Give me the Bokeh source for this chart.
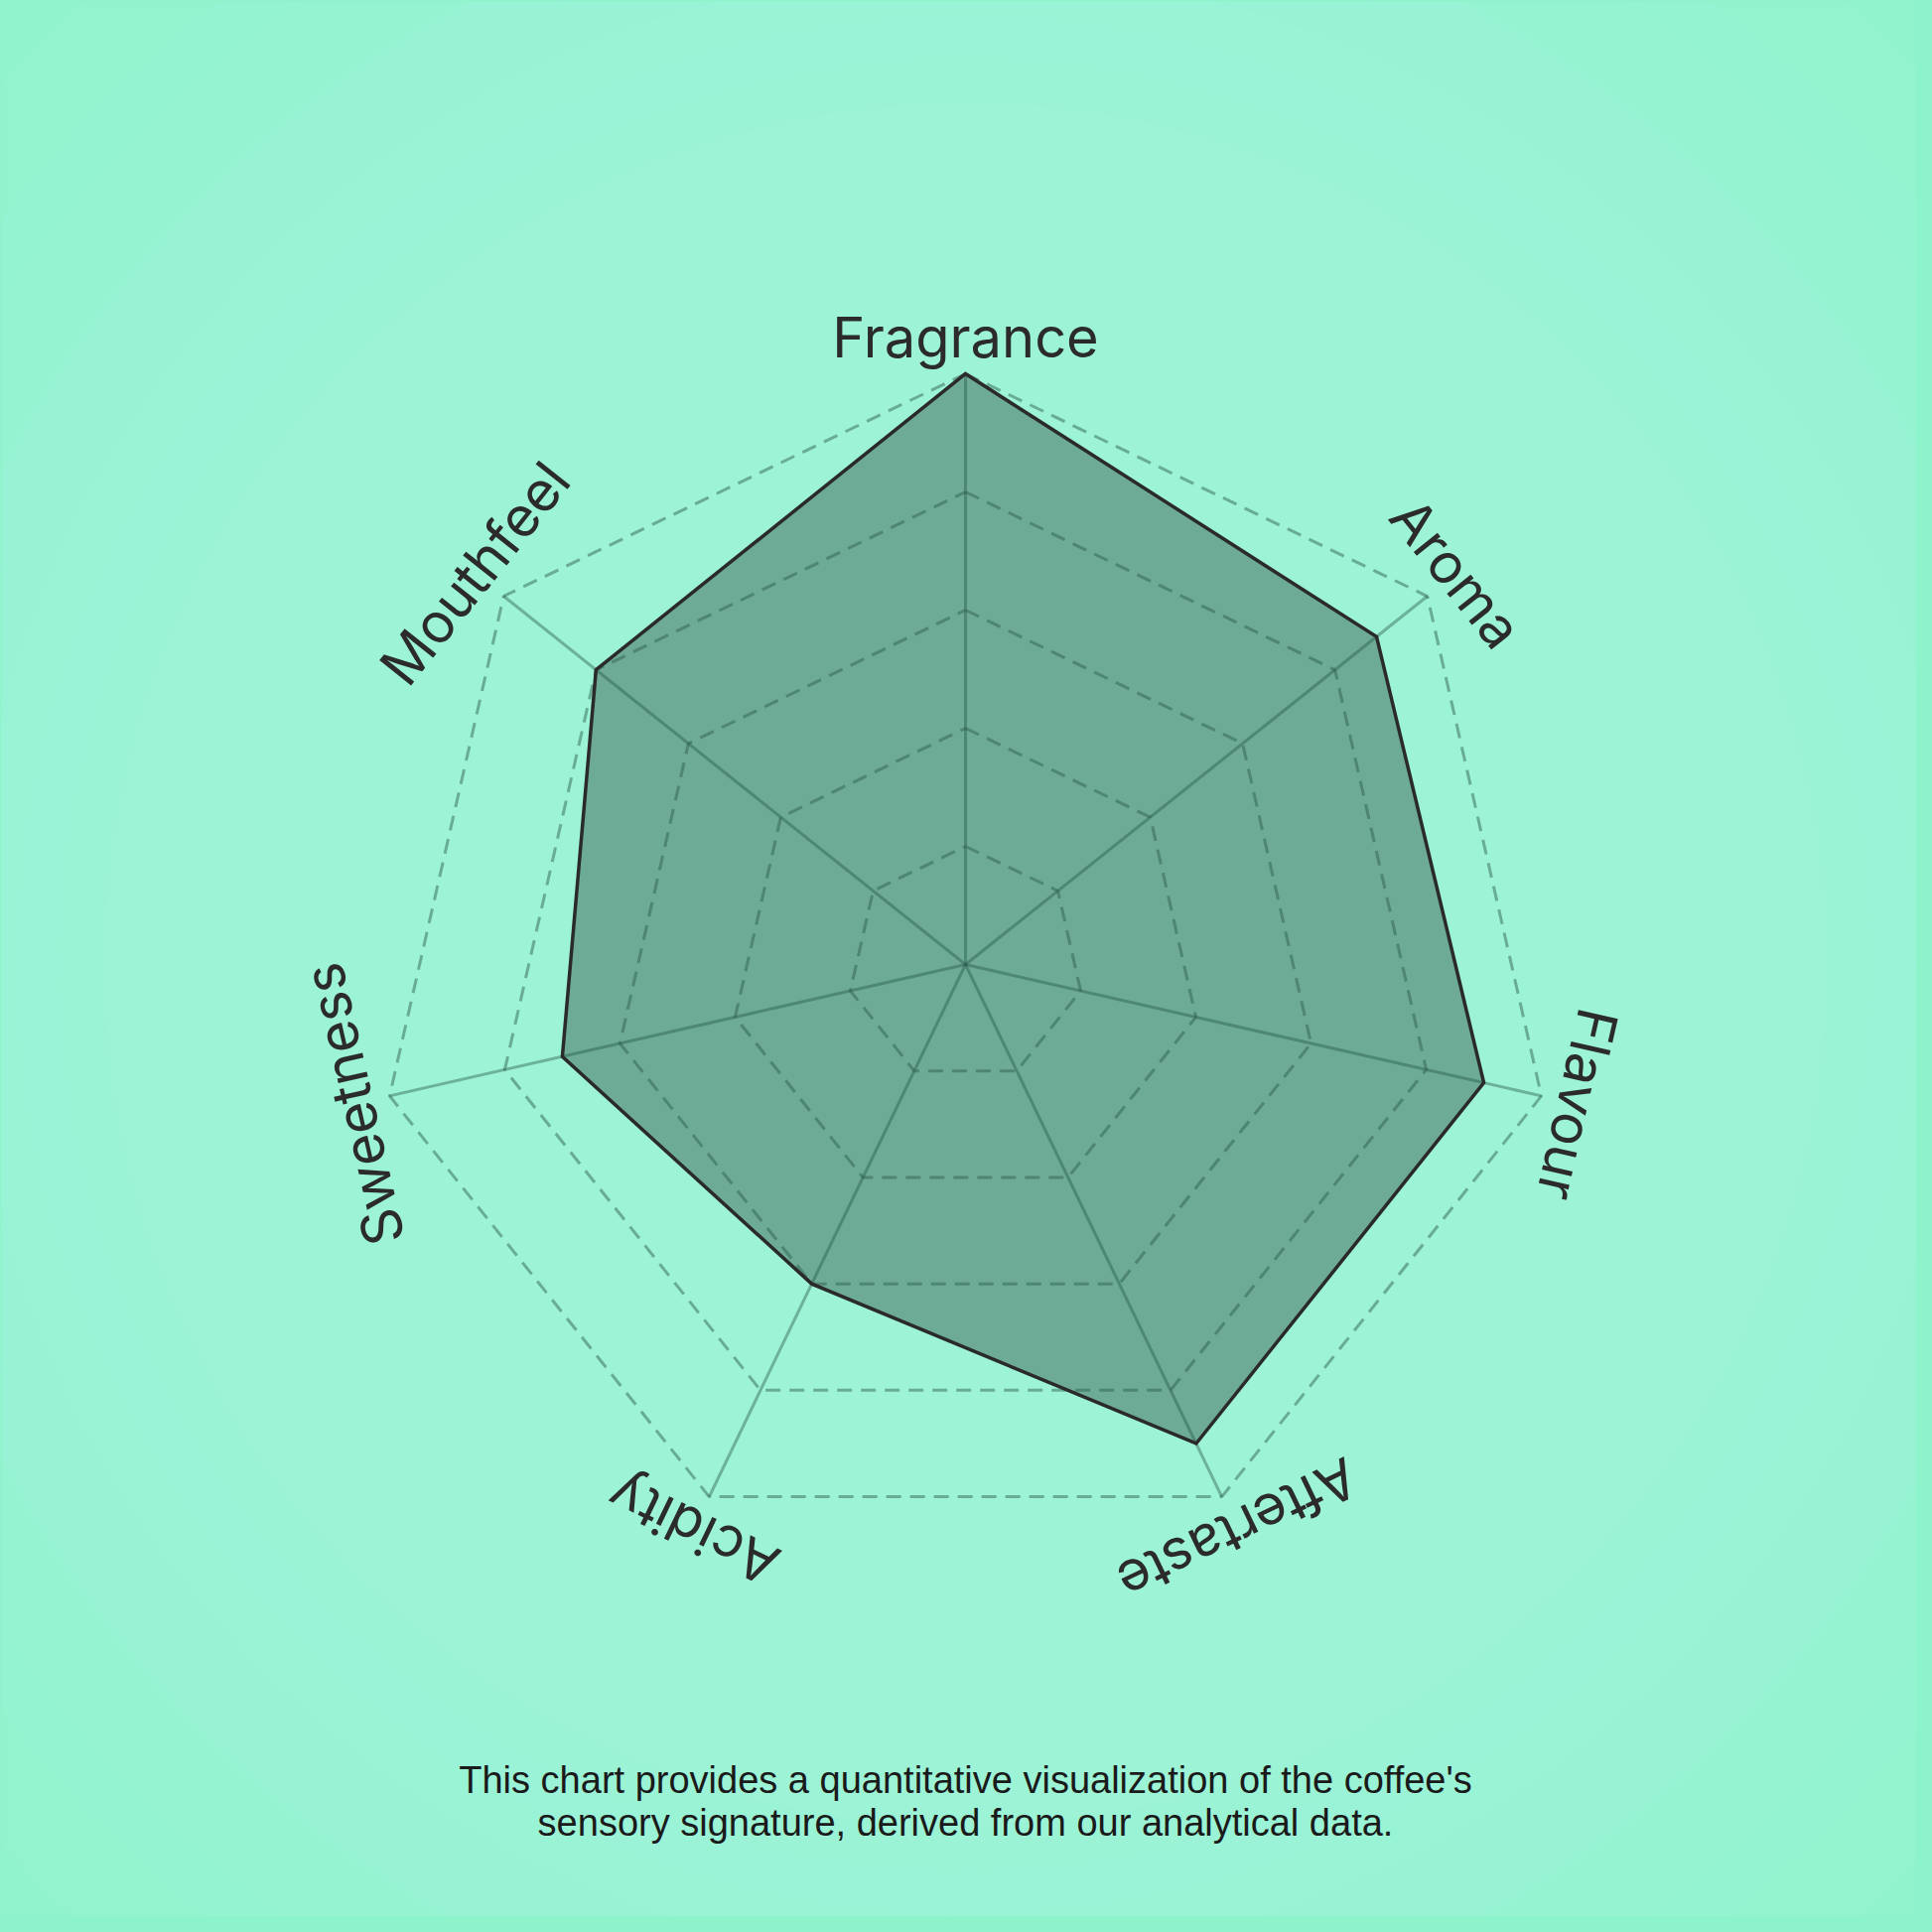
import numpy as np
from bokeh.plotting import figure
from bokeh.models import Range1d
from bokeh.embed import file_html
from bokeh.resources import INLINE
from bokeh.core.properties import value

# ---- data -------------------------------------------------------------
categories = ["Fragrance", "Aroma", "Flavour", "Aftertaste", "Acidity", "Sweetness", "Mouthfeel"]
scores = [5.0, 4.45, 4.5, 4.5, 3.0, 3.5, 4.0]
max_score = 5.0
ring_levels = [1, 2, 3, 4, 5]
caption_lines = [
    "This chart provides a quantitative visualization of the coffee's",
    "sensory signature, derived from our analytical data.",
]

# ---- layout / style ---------------------------------------------------
W = H = 1930
CX, CY = 972, 959
R = 595
LABEL_R = 632
BG = "#8cf3ca"

n = len(categories)
theta = np.pi / 2 - 2 * np.pi * np.arange(n) / n

p = figure(width=W, height=H, x_range=Range1d(0, W), y_range=Range1d(0, H),
           x_axis_type=None, y_axis_type=None,
           output_backend="svg", toolbar_location=None, min_border=0,
           outline_line_color=None, background_fill_color=BG, border_fill_color=BG)

# soft radial background glow
radii = np.linspace(1450, 150, 30)
p.circle(x=[CX] * len(radii), y=[CY] * len(radii), radius=radii,
         fill_color="#a3ffe0", fill_alpha=0.07, line_color=None)

# data polygon fill
s = np.array(scores) / max_score
dx = CX + R * s * np.cos(theta)
dy = CY + R * s * np.sin(theta)
p.patch(list(dx), list(dy), fill_color="#487363", fill_alpha=0.56, line_color=None)

# grid rings
ring_xs, ring_ys = [], []
for lv in ring_levels:
    r = R * lv / max_score
    xs = list(CX + r * np.cos(theta)) + [CX + r * np.cos(theta[0])]
    ys = list(CY + r * np.sin(theta)) + [CY + r * np.sin(theta[0])]
    ring_xs.append(xs)
    ring_ys.append(ys)
p.multi_line(xs=ring_xs, ys=ring_ys, line_color="#27564a", line_alpha=0.45,
             line_width=3, line_dash="15 9")

# spokes
p.segment(x0=[CX] * n, y0=[CY] * n,
          x1=list(CX + R * np.cos(theta)), y1=list(CY + R * np.sin(theta)),
          line_color="#27564a", line_alpha=0.42, line_width=3)

# data outline
p.patch(list(dx), list(dy), fill_color=None, line_color="#2a2a2a",
        line_width=3.5, line_join="miter")

# category labels (tangential)
lx = list(CX + LABEL_R * np.cos(theta))
ly = list(CY + LABEL_R * np.sin(theta))
p.text(x=lx, y=ly, text=categories, angle=list(theta - np.pi / 2),
       text_font=value("Inter"), text_font_size="56px", text_align="center",
       text_baseline="alphabetic", text_color="#2b2b2b")

# caption
p.text(x=[CX, CX], y=[138, 95], text=caption_lines,
       text_font=value("Liberation Sans"), text_font_size="38px",
       text_align="center", text_baseline="middle", text_color="#1a1a1a")

html = file_html(p, INLINE, title="Coffee sensory radar")
html = html.replace("<body>", '<body style="background:%s;">' % BG)
open("out.html", "w").write(html)
